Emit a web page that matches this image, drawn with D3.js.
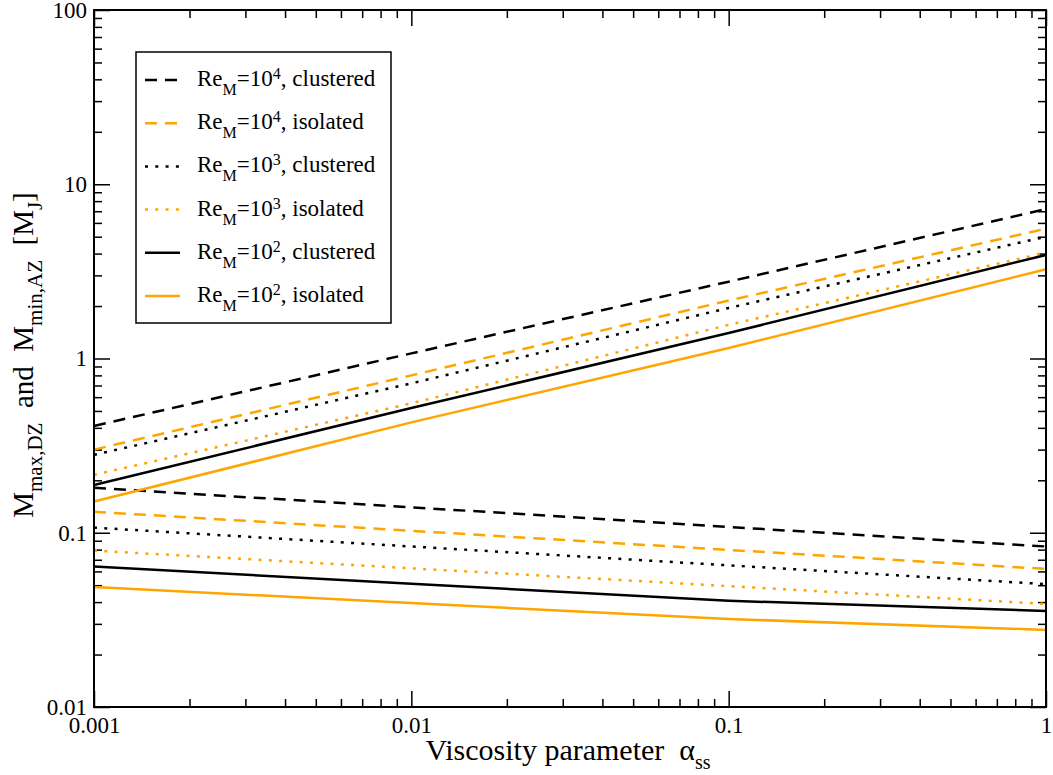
<!DOCTYPE html>
<html lang="en-us">
<head>
<meta charset="UTF-8">
<title>Mmax,DZ and Mmin,AZ vs viscosity parameter</title>
<script src="https://cdn.jsdelivr.net/npm/d3@7"></script>
<style>
  body { margin: 0; background: #fff; }
  text { font-family: "Liberation Serif", "DejaVu Serif", "Times New Roman", serif; fill: #000; white-space: pre; }
</style>
<script>
  // alpha_ss sample points
  var alphaValues = [0.001, 0.01, 0.1, 1];

  // upper branch: M_max,DZ
  var maxClustered4 = [0.41, 1.07, 2.76, 7.2];
  var maxIsolated4  = [0.30, 0.80, 2.15, 5.56];
  var maxClustered3 = [0.28, 0.72, 1.95, 5.0];
  var maxIsolated3  = [0.215, 0.553, 1.56, 4.05];
  var maxClustered2 = [0.188, 0.52, 1.40, 3.93];
  var maxIsolated2  = [0.151, 0.43, 1.15, 3.25];

  // lower branch: M_min,AZ
  var minClustered4 = [0.181, 0.14, 0.108, 0.0834];
  var minIsolated4  = [0.132, 0.1026, 0.0797, 0.062];
  var minClustered3 = [0.107, 0.0834, 0.065, 0.0507];
  var minIsolated3  = [0.079, 0.0625, 0.0494, 0.039];
  var minClustered2 = [0.064, 0.051, 0.0407, 0.0356];
  var minIsolated2  = [0.0488, 0.0395, 0.032, 0.0277];

  var reExponents = ["4", "4", "3", "3", "2", "2"];
  var environments = ["clustered", "isolated", "clustered", "isolated", "clustered", "isolated"];

  var xTickValues = [0.001, 0.01, 0.1, 1];
  var xTickLabels = ["0.001", "0.01", "0.1", "1"];
  var yTickValues = [0.01, 0.1, 1, 10, 100];
  var yTickLabels = ["0.01", "0.1", "1", "10", "100"];
</script>
</head>
<body>
<svg id="chart" width="1053" height="775"></svg>
<script>
  var svg = d3.select("#chart");

  // plot box (window.top is reserved, so use other names)
  var plotL = 94, plotR = 1046, plotT = 10, plotB = 707;

  var x = d3.scaleLog().domain([0.001, 1]).range([plotL, plotR]);
  var y = d3.scaleLog().domain([0.01, 100]).range([plotB, plotT]);

  var orange = "#ffa500";
  var dashed = "12,8", dotted = "3,7.3";

  // one entry per legend row (style + both branches)
  var series = [
    { color: "#000", dash: dashed, upper: maxClustered4, lower: minClustered4 },
    { color: orange, dash: dashed, upper: maxIsolated4,  lower: minIsolated4 },
    { color: "#000", dash: dotted, upper: maxClustered3, lower: minClustered3 },
    { color: orange, dash: dotted, upper: maxIsolated3,  lower: minIsolated3 },
    { color: "#000", dash: null,   upper: maxClustered2, lower: minClustered2 },
    { color: orange, dash: null,   upper: maxIsolated2,  lower: minIsolated2 }
  ];
  series.forEach(function(s, i) { s.re = reExponents[i]; s.env = environments[i]; });

  // minor ticks = 2..9 within each decade
  var isMajor = function(v) { return Math.abs(Math.log10(v) - Math.round(Math.log10(v))) < 1e-6; };
  var xMinor = x.ticks().filter(function(v) { return !isMajor(v); });
  var yMinor = y.ticks().filter(function(v) { return !isMajor(v); });

  function styleAxis(g) {
    g.attr("font-size", null).attr("font-family", null);
    g.select(".domain").remove();
    g.selectAll("line").attr("stroke", "#000").attr("stroke-width", 1.5);
    g.selectAll("text").attr("font-size", 23);
  }

  // bottom
  svg.append("g").attr("transform", "translate(0," + plotB + ")")
    .call(d3.axisBottom(x).tickValues(xTickValues).tickSize(-16).tickPadding(10)
      .tickFormat(function(d, i) { return xTickLabels[i]; }))
    .call(styleAxis);
  svg.append("g").attr("transform", "translate(0," + plotB + ")")
    .call(d3.axisBottom(x).tickValues(xMinor).tickSize(-8).tickFormat(""))
    .call(styleAxis);
  // top
  svg.append("g").attr("transform", "translate(0," + plotT + ")")
    .call(d3.axisTop(x).tickValues(xTickValues).tickSize(-16).tickFormat(""))
    .call(styleAxis);
  svg.append("g").attr("transform", "translate(0," + plotT + ")")
    .call(d3.axisTop(x).tickValues(xMinor).tickSize(-8).tickFormat(""))
    .call(styleAxis);
  // left
  svg.append("g").attr("transform", "translate(" + plotL + ",0)")
    .call(d3.axisLeft(y).tickValues(yTickValues).tickSize(-16).tickPadding(7)
      .tickFormat(function(d, i) { return yTickLabels[i]; }))
    .call(styleAxis);
  svg.append("g").attr("transform", "translate(" + plotL + ",0)")
    .call(d3.axisLeft(y).tickValues(yMinor).tickSize(-8).tickFormat(""))
    .call(styleAxis);
  // right
  svg.append("g").attr("transform", "translate(" + plotR + ",0)")
    .call(d3.axisRight(y).tickValues(yTickValues).tickSize(-16).tickFormat(""))
    .call(styleAxis);
  svg.append("g").attr("transform", "translate(" + plotR + ",0)")
    .call(d3.axisRight(y).tickValues(yMinor).tickSize(-8).tickFormat(""))
    .call(styleAxis);

  // curves
  var line = d3.line()
    .x(function(d) { return x(d[0]); })
    .y(function(d) { return y(d[1]); });

  var curves = [];
  series.forEach(function(s) {
    curves.push({ s: s, pts: d3.zip(alphaValues, s.upper) });
    curves.push({ s: s, pts: d3.zip(alphaValues, s.lower) });
  });

  svg.append("g").selectAll("path")
    .data(curves)
    .enter()
    .append("path")
    .attr("d", function(d) { return line(d.pts); })
    .attr("fill", "none")
    .attr("stroke", function(d) { return d.s.color; })
    .attr("stroke-width", 2.5)
    .attr("stroke-dasharray", function(d) { return d.s.dash; });

  // frame
  svg.append("rect")
    .attr("x", plotL).attr("y", plotT)
    .attr("width", plotR - plotL).attr("height", plotB - plotT)
    .attr("fill", "none").attr("stroke", "#000").attr("stroke-width", 2);

  // legend
  var legend = svg.append("g");
  legend.append("rect")
    .attr("x", 136).attr("y", 52).attr("width", 255).attr("height", 271)
    .attr("fill", "#fff").attr("stroke", "#000").attr("stroke-width", 1.5);

  var rows = legend.selectAll("g.row")
    .data(series)
    .enter()
    .append("g")
    .attr("class", "row")
    .attr("transform", function(d, i) { return "translate(0," + (80 + i * 43.2) + ")"; });

  rows.append("line")
    .attr("x1", 145).attr("x2", 180)
    .attr("stroke", function(d) { return d.color; })
    .attr("stroke-width", 2.5)
    .attr("stroke-dasharray", function(d) { return d.dash; });

  var lt = rows.append("text").attr("x", 197).attr("y", 6).attr("font-size", 23);
  lt.append("tspan").text("Re");
  lt.append("tspan").attr("font-size", 16).attr("dy", 9).text("M");
  lt.append("tspan").attr("dy", -9).text("=10");
  lt.append("tspan").attr("font-size", 16).attr("dy", -7).text(function(d) { return d.re; });
  lt.append("tspan").attr("dy", 7).text(function(d) { return ", " + d.env; });

  // x title
  var xt = svg.append("text").attr("x", 568).attr("y", 760)
    .attr("text-anchor", "middle").attr("font-size", 30);
  xt.append("tspan").text("Viscosity parameter  \u03b1");
  xt.append("tspan").attr("font-size", 20).attr("dy", 9).text("ss");

  // y title
  var yt = svg.append("text")
    .attr("transform", "translate(33,355) rotate(-90)")
    .attr("text-anchor", "middle").attr("font-size", 29);
  yt.append("tspan").text("M");
  yt.append("tspan").attr("font-size", 21).attr("dy", 9).text("max,DZ");
  yt.append("tspan").attr("dy", -9).text("  and  M");
  yt.append("tspan").attr("font-size", 21).attr("dy", 9).text("min,AZ");
  yt.append("tspan").attr("dy", -9).text("  [M");
  yt.append("tspan").attr("font-size", 21).attr("dy", 9).text("J");
  yt.append("tspan").attr("dy", -9).text("]");
</script>
</body>
</html>
